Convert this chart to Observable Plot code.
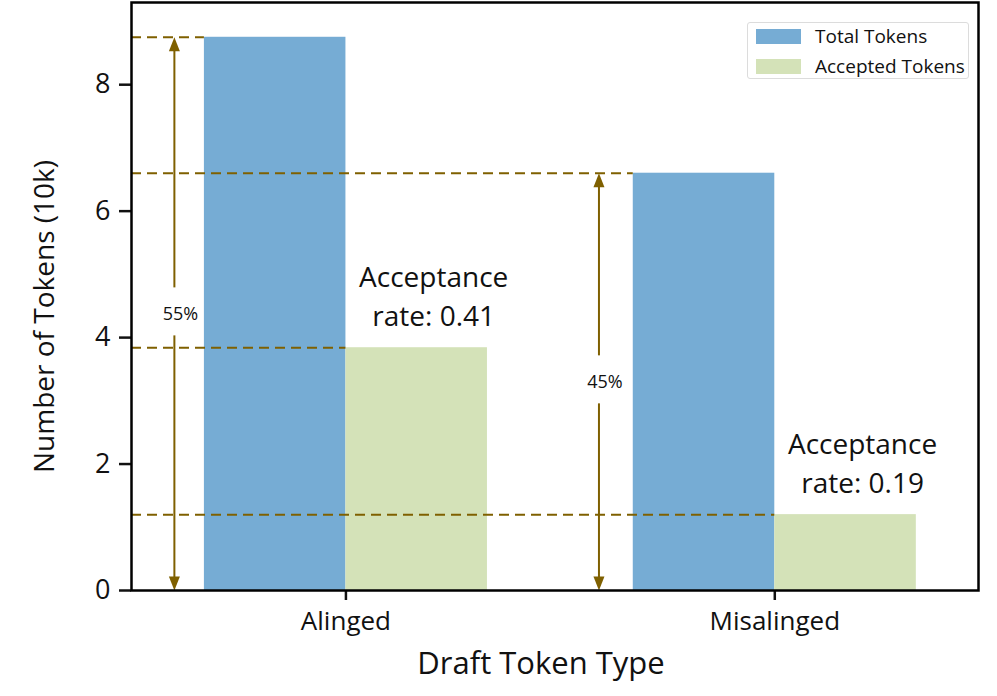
<!DOCTYPE html>
<html>
<head>
<meta charset="utf-8">
<script src="https://cdn.jsdelivr.net/npm/d3@7"></script>
<script src="https://cdn.jsdelivr.net/npm/@observablehq/plot@0.6"></script>
<style>
  html, body { margin: 0; padding: 0; background: #fff; }
  #wrap { position: relative; width: 997px; height: 696px; font-family: "Open Sans", sans-serif; }
  #legend { position: absolute; left: 747px; top: 22px; width: 222px; height: 57px; border: 1px solid #dcdcdc; border-radius: 3px; background: #fff; box-sizing: border-box; }
  .item { position: absolute; left: 8px; height: 16px; display: flex; align-items: center; font-size: 19px; color: #111; }
  .sw { width: 45px; height: 15px; margin-right: 14px; }
</style>
</head>
<body>
<div id="wrap"></div>
<script>
const categories = ["Alinged", "Misalinged"];
const seriesNames = ["Total Tokens", "Accepted Tokens"];
const totalTokens = [8.75, 6.6];
const acceptedTokens = [3.84, 1.2];
const acceptanceLabels = ["Acceptance\nrate: 0.41", "Acceptance\nrate: 0.19"];
const shareLabels = ["55%", "45%"];
const arrowX = [-0.4, 0.59];
const yTicks = [0, 2, 4, 6, 8];
const barWidth = 0.33;
const xDomain = [-0.5, 1.475];
const yDomain = [0, 9.3];
const colors = ["#76acd4", "#d4e2b8"];
const guideColor = "#7f6000";

const bars = categories.flatMap((c, i) => [
  {series: seriesNames[0], x1: i - barWidth, x2: i, y: totalTokens[i]},
  {series: seriesNames[1], x1: i, x2: i + barWidth, y: acceptedTokens[i]}
]);
const guides = categories.flatMap((c, i) => [
  {y: totalTokens[i], x1: xDomain[0], x2: i - barWidth},
  {y: acceptedTokens[i], x1: xDomain[0], x2: i}
]);
const notes = categories.map((c, i) => ({x: i + barWidth / 2, y: acceptedTokens[i], text: acceptanceLabels[i]}));
const arrows = arrowX.map((x, i) => ({x, top: totalTokens[i], mid: totalTokens[i] / 2, label: shareLabels[i]}));

const upHead = {draw(ctx) { ctx.moveTo(0, 0); ctx.lineTo(5.5, 14); ctx.lineTo(-5.5, 14); ctx.closePath(); }};
const downHead = {draw(ctx) { ctx.moveTo(0, 0); ctx.lineTo(5.5, -14); ctx.lineTo(-5.5, -14); ctx.closePath(); }};

const chart = Plot.plot({
  width: 997,
  height: 696,
  marginLeft: 131,
  marginRight: 19,
  marginTop: 2,
  marginBottom: 106,
  style: {fontFamily: "'Open Sans', sans-serif", color: "#111", background: "#fff"},
  x: {type: "linear", domain: xDomain},
  y: {domain: yDomain},
  color: {domain: seriesNames, range: colors},
  marks: [
    Plot.rectY(bars, {x1: "x1", x2: "x2", y: "y", fill: "series"}),
    Plot.ruleY(guides, {y: "y", x1: "x1", x2: "x2", stroke: guideColor, strokeWidth: 2, strokeDasharray: "10,6"}),
    Plot.ruleX(arrows, {x: "x", y1: "top", y2: "mid", stroke: guideColor, strokeWidth: 2, insetTop: 6, insetBottom: 26}),
    Plot.ruleX(arrows, {x: "x", y1: "mid", y2: 0, stroke: guideColor, strokeWidth: 2, insetTop: 22, insetBottom: 6}),
    Plot.dot(arrows, {x: "x", y: "top", symbol: upHead, fill: guideColor, stroke: null}),
    Plot.dot(arrows, {x: "x", y: 0, symbol: downHead, fill: guideColor, stroke: null}),
    Plot.text(arrows, {x: "x", y: "mid", text: "label", dx: 6, fontSize: 18, fill: "#111"}),
    Plot.text(notes, {x: "x", y: "y", text: "text", dx: 17, dy: -54, lineAnchor: "middle", lineHeight: 1.4, fontSize: 28, fill: "#111"}),
    Plot.axisY({ticks: yTicks, tickSize: 12, tickPadding: 9, fontSize: 27, strokeWidth: 2.5, label: null}),
    Plot.axisX({ticks: [0, 1], tickFormat: i => categories[i], tickSize: 10, tickPadding: 11, fontSize: 26, strokeWidth: 2.5, label: null}),
    Plot.text(["Number of Tokens (10k)"], {frameAnchor: "left", textAnchor: "middle", lineAnchor: "middle", dx: -86, dy: 20, rotate: -90, fontSize: 28, fill: "#111"}),
    Plot.text(["Draft Token Type"], {frameAnchor: "bottom", lineAnchor: "middle", dx: -14, dy: 74, fontSize: 31, fill: "#111"}),
    Plot.frame({stroke: "#000", strokeWidth: 2.5})
  ]
});

const wrap = document.getElementById("wrap");
wrap.appendChild(chart);
const legend = document.createElement("div");
legend.id = "legend";
seriesNames.forEach((name, i) => {
  const item = document.createElement("div");
  item.className = "item";
  item.style.top = (i === 0 ? 5 : 35) + "px";
  const sw = document.createElement("span");
  sw.className = "sw";
  sw.style.background = colors[i];
  const tx = document.createElement("span");
  tx.textContent = name;
  item.appendChild(sw);
  item.appendChild(tx);
  legend.appendChild(item);
});
wrap.appendChild(legend);
</script>
</body>
</html>
